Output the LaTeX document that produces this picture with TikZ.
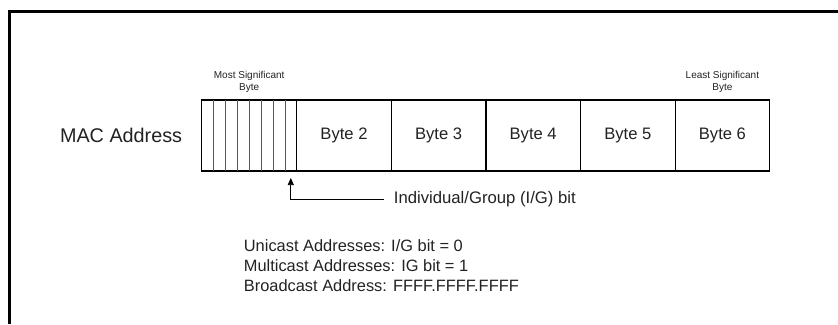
\documentclass[tikz,border=0pt]{standalone}
\usepackage{fontspec}
\setmainfont{Liberation Sans}
\usepackage{tikz}
\usetikzlibrary{positioning,arrows.meta}
\definecolor{ink}{HTML}{222222}
\definecolor{bitgray}{HTML}{555555}

\begin{document}
\begin{tikzpicture}[
        x=1pt, y=-1pt,
        byte/.style={
            draw,
            line width=1.2pt,
            minimum width=94.6pt,
            minimum height=71pt,
            outer sep=0pt,
            inner sep=0pt,
            font=\fontsize{16.6}{20}\selectfont,
            text=ink
        },
        bitline/.style={
            bitgray,
            line width=0.6pt
        },
        caption/.style={
            align=center,
            inner sep=0pt,
            font=\fontsize{10}{12}\selectfont,
            text=ink
        },
        igarrow/.style={
            -{Triangle[length=7pt,width=6pt]},
            line width=0.7pt
        },
        frame/.style={
            line width=3pt
        },
        node distance=0pt
    ]

    \useasboundingbox (0,0) rectangle (838,324);
    \draw[frame] (838,11) -| (9,324);

    \node[byte, minimum width=95pt] (msb) at (249.2,135.5) {};
    \node[byte, right=of msb] (b2) {Byte 2};
    \node[byte, right=of b2] (b3) {Byte 3};
    \node[byte, right=of b3] (b4) {Byte 4};
    \node[byte, right=of b4] (b5) {Byte 5};
    \node[byte, right=of b5] (b6) {Byte 6};

    % the eight bits of the first byte
    \foreach \i in {1,...,7}
        \draw[bitline] ([xshift=\i*11.875pt]msb.north west) -- ([xshift=\i*11.875pt]msb.south west);

    \node[left=16pt of msb, font=\fontsize{19.8}{24}\selectfont, text=ink] (mac) {MAC Address};
    \node[caption, above=7pt of msb] (msbl) {Most Significant\\Byte};
    \node[caption, above=7pt of b6] (lsbl) {Least Significant\\Byte};

    \coordinate (igbit) at ([xshift=-5.9pt, yshift=-7pt]msb.south east);
    \node[anchor=west, inner xsep=10pt, font=\fontsize{16.7}{20}\selectfont, text=ink]
        (ig) at ([xshift=87pt, yshift=-28pt]msb.south east) {Individual/Group (I/G) bit};
    \draw[igarrow] (ig.west) -| (igbit);

    \node[anchor=north west, align=left, inner sep=0pt, font=\fontsize{16.4}{20}\selectfont, text=ink]
        (notes) at ([xshift=42pt, yshift=-68pt]msb.south west)
        {Unicast Addresses: I/G bit = 0\\Multicast Addresses: IG bit = 1\\Broadcast Address: FFFF.FFFF.FFFF};

    \end{tikzpicture}
\end{document}
